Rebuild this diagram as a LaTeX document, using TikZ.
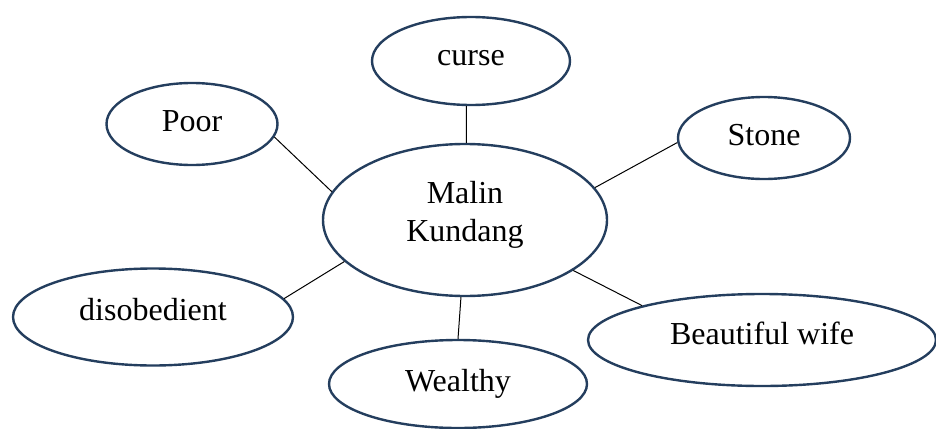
\documentclass[tikz,border=0pt]{standalone}
\usepackage{fontspec}
\setmainfont{Liberation Serif}
\usetikzlibrary{shapes.geometric}
\definecolor{ovalc}{RGB}{36,62,94}
\newcommand\liftup[2]{\raisebox{#1}[\height][\depth]{#2}}
\begin{document}
\begin{tikzpicture}[x=1pt,y=-1pt,
  oval/.style={ellipse, draw=ovalc, line width=2.4pt, inner sep=0pt, align=center,
    font=\fontsize{32}{38}\selectfont},
  link/.style={draw=black, line width=1pt}]
\useasboundingbox (0,0) rectangle (936,428);
\node[oval, minimum width=198pt, minimum height=88pt] (curse) at (471,61) {\liftup{2.5pt}{curse}};
\node[oval, minimum width=171pt, minimum height=82pt] (poor) at (192,124) {\liftup{2.5pt}{Poor}};
\node[oval, minimum width=172pt, minimum height=82pt] (stone) at (764,138) {\liftup{2.5pt}{Stone}};
\node[oval, minimum width=284pt, minimum height=152pt] (malin) at (465,220) {\liftup{5pt}{\begin{tabular}{@{}c@{}}Malin\\Kundang\end{tabular}}};
\node[oval, minimum width=280pt, minimum height=97pt] (dis) at (153,317) {\liftup{7pt}{disobedient}};
\node[oval, minimum width=258pt, minimum height=88pt] (wealthy) at (458,384) {Wealthy};
\node[oval, minimum width=348pt, minimum height=92pt] (wife) at (762,340) {\liftup{6.5pt}{Beautiful wife}};
\draw[link] (poor.-9) -- (malin.168);
\draw[link] (curse.-96) -- (malin.89);
\draw[link] (stone.-177) -- (malin.14);
\draw[link] (dis.8) -- (malin.-161);
\draw[link] (wealthy.90) -- (malin.-93);
\draw[link] (wife.164) -- (malin.-25);
\end{tikzpicture}
\end{document}
